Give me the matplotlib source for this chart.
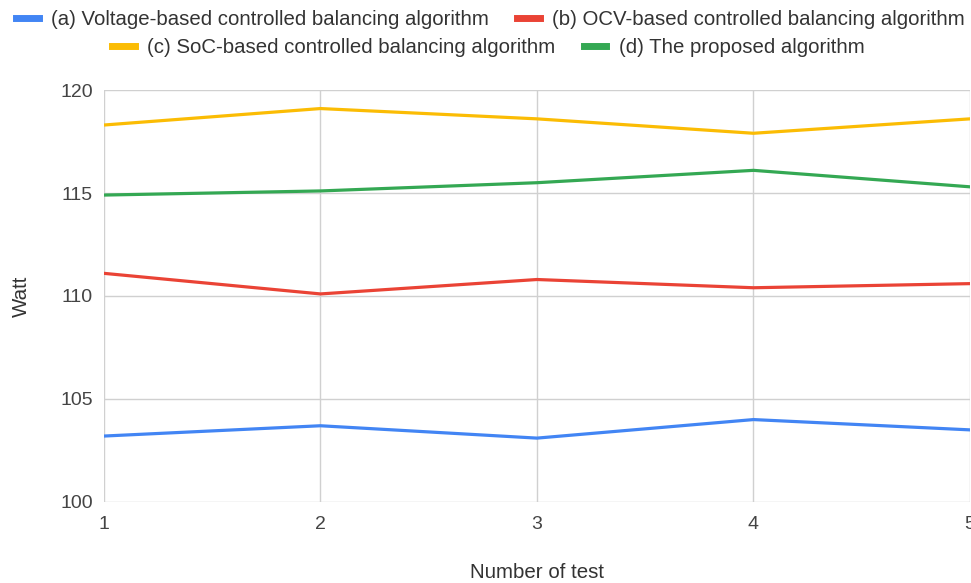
import matplotlib
matplotlib.use("Agg")
import matplotlib.pyplot as plt
from matplotlib.lines import Line2D

plt.rcParams['font.family'] = ['Liberation Sans', 'DejaVu Sans']

tests = [1, 2, 3, 4, 5]
voltage = [103.2, 103.7, 103.1, 104.0, 103.5]
ocv = [111.1, 110.1, 110.8, 110.4, 110.6]
soc = [118.3, 119.1, 118.6, 117.9, 118.6]
proposed = [114.9, 115.1, 115.5, 116.1, 115.3]

labels = ["(a) Voltage-based controlled balancing algorithm",
          "(b) OCV-based controlled balancing algorithm",
          "(c) SoC-based controlled balancing algorithm",
          "(d) The proposed algorithm"]
colors = ["#4285F4", "#EA4335", "#FBBC04", "#34A853"]
series = [voltage, ocv, soc, proposed]

fig = plt.figure(figsize=(9.71, 5.83), dpi=100)
ax = fig.add_axes([0.107, 0.139, 0.892, 0.7066])

for s, c, l in zip(series, colors, labels):
    ax.plot(tests, s, color=c, lw=2.3, label=l, solid_capstyle='round')

ax.set_xlim(1, 5)
ax.set_ylim(100, 120)
ax.set_xticks(tests)
ax.set_yticks([100, 105, 110, 115, 120])
ax.grid(True, color="#d0d0d0", lw=1)
ax.set_axisbelow(True)
for sp in ax.spines.values():
    sp.set_visible(False)
ax.tick_params(axis='y', length=0, labelsize=14, colors="#444444", pad=8)
ax.tick_params(axis='x', length=0, labelsize=14, colors="#444444", pad=10)
ax.set_xlabel("Number of test", fontsize=14.8, color="#333333", labelpad=22)
ax.set_ylabel("Watt", fontsize=14.8, color="#333333", labelpad=21)

def handle(c):
    return Line2D([0], [0], color=c, lw=5)

kw = dict(frameon=False, fontsize=14.7, handlelength=1.1, handletextpad=0.6,
          columnspacing=1.4, labelcolor="#333333")
leg1 = fig.legend([handle(colors[0]), handle(colors[1])], labels[:2], ncol=2,
                  loc="center", bbox_to_anchor=(0.505, 0.966), **kw)
leg2 = fig.legend([handle(colors[2]), handle(colors[3])], labels[2:], ncol=2,
                  loc="center", bbox_to_anchor=(0.503, 0.918), **kw)

fig.savefig("out.png", dpi=100)
